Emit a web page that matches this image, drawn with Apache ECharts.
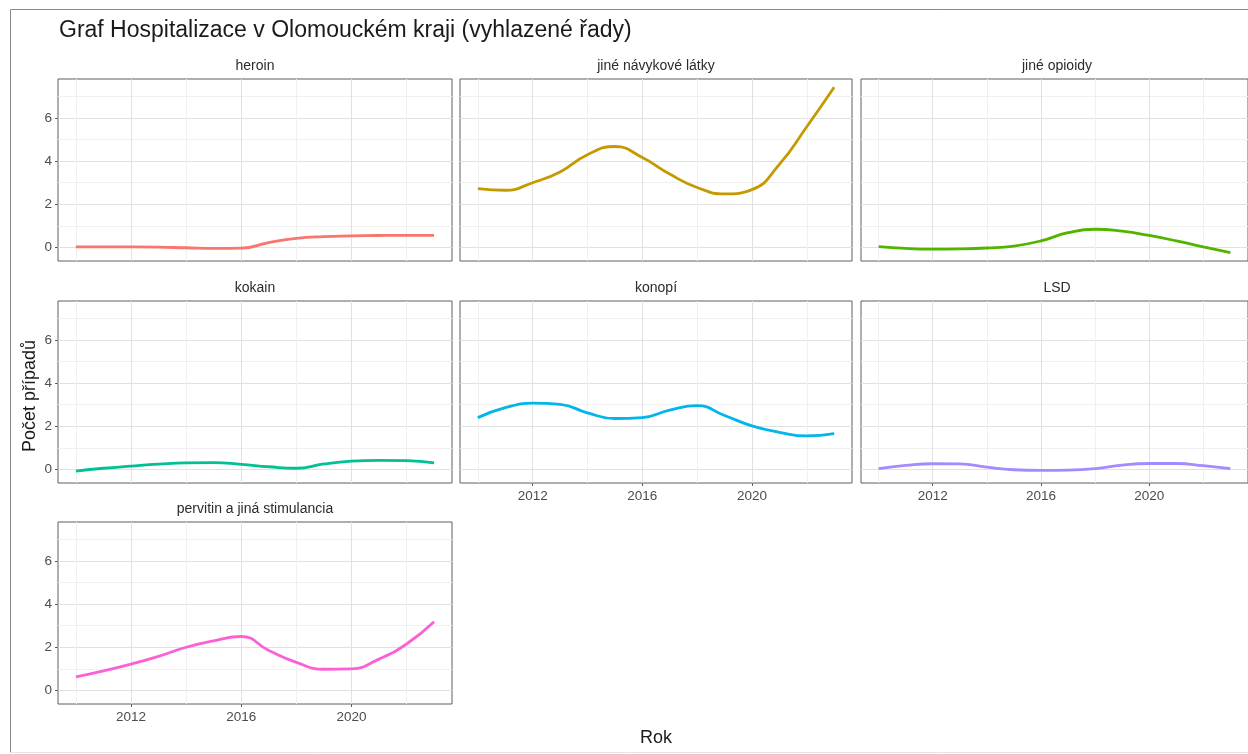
<!DOCTYPE html>
<html>
<head>
<meta charset="utf-8">
<script src="https://cdn.jsdelivr.net/npm/echarts@6/dist/echarts.min.js"></script>
<style>
  html, body { margin: 0; padding: 0; background: #ffffff; }
  #chart { width: 1248px; height: 754px; }
</style>
</head>
<body>
<div id="chart"></div>
<script>
// Smoothed yearly hospitalisation counts per substance, Olomoucký kraj
const years = [2010, 2011, 2012, 2013, 2014, 2015, 2016, 2017, 2018, 2019, 2020, 2021, 2022, 2023];

const panelNames = ['heroin', 'jiné návykové látky', 'jiné opioidy', 'kokain', 'konopí', 'LSD', 'pervitin a jiná stimulancia'];

const heroin      = [0.02, 0.02, 0.02, 0.01, -0.02, -0.05, -0.04, 0.22, 0.42, 0.50, 0.53, 0.55, 0.56, 0.56];
const jineLatky   = [2.73, 2.65, 3.00, 3.50, 4.30, 4.68, 4.17, 3.40, 2.78, 2.48, 2.68, 3.85, 5.60, 7.43];
const jineOpioidy = [0.03, -0.05, -0.08, -0.07, -0.03, 0.06, 0.30, 0.68, 0.84, 0.75, 0.55, 0.30, 0.02, -0.25];
const kokain      = [-0.08, 0.05, 0.15, 0.24, 0.30, 0.31, 0.23, 0.12, 0.05, 0.25, 0.38, 0.42, 0.40, 0.30];
const konopi      = [2.40, 2.86, 3.07, 3.02, 2.62, 2.36, 2.40, 2.75, 2.96, 2.50, 2.02, 1.72, 1.55, 1.66];
const lsd         = [0.03, 0.18, 0.26, 0.25, 0.10, -0.02, -0.05, -0.04, 0.03, 0.20, 0.27, 0.27, 0.17, 0.03];
const pervitin    = [0.62, 0.90, 1.22, 1.58, 2.00, 2.30, 2.50, 1.85, 1.30, 0.98, 1.00, 1.45, 2.15, 3.18];

const seriesValues = [heroin, jineLatky, jineOpioidy, kokain, konopi, lsd, pervitin];

const xMajorTicks = [2012, 2016, 2020];
const xMinorTicks = [2010, 2014, 2018, 2022];
const yMajorTicks = [0, 2, 4, 6];
const yMinorTicks = [1, 3, 5, 7];

const palette = ['#F8766D', '#C49A00', '#53B400', '#00C094', '#00B6EB', '#A58AFF', '#FB61D7'];

// Shared scales with 5 % padding on each side of the data range
const allVals = seriesValues.flat();
const yLo = Math.min(...allVals), yHi = Math.max(...allVals);
const yPad = (yHi - yLo) * 0.05;
const yMin = yLo - yPad, yMax = yHi + yPad;
const xPad = (years[years.length - 1] - years[0]) * 0.05;
const xMin = years[0] - xPad, xMax = years[years.length - 1] + xPad;

// Facet layout: 3 columns, panels filled row by row
const colLeft = [58, 460, 861];
const colWidth = [394, 392, 392];
const rowTop = [79, 301, 522];
const rowHeight = 182;

const FONT = '"Liberation Sans", Arial, sans-serif';
const majorGrid = '#e1e1e1';
const minorGrid = '#f0f0f0';
const tickColor = '#4d4d4d';
const frameColor = '#5e5e5e';

const grids = [], xAxes = [], yAxes = [], series = [];

panelNames.forEach((name, i) => {
  const col = i % 3, row = Math.floor(i / 3);
  const left = colLeft[col], top = rowTop[row], width = colWidth[col];
  grids.push({
    left: left, top: top, width: width, height: rowHeight,
    show: true, borderColor: frameColor, borderWidth: 1, backgroundColor: 'transparent'
  });
  // bottom panel of each column carries x labels, first column carries y labels
  const lastInCol = (i + 3 >= panelNames.length);
  const firstCol = (col === 0);

  xAxes.push({
    type: 'value', gridIndex: i, min: xMin, max: xMax, position: 'bottom',
    axisLine: { show: false, onZero: false },
    axisTick: { show: lastInCol, length: 3, customValues: xMajorTicks, lineStyle: { color: frameColor } },
    axisLabel: {
      show: lastInCol, customValues: xMajorTicks, margin: 6, color: tickColor,
      fontFamily: FONT, fontSize: 13.5, formatter: v => String(v)
    },
    splitLine: { show: true, lineStyle: { color: majorGrid, width: 1 } }
  });
  xAxes.push({
    type: 'value', gridIndex: i, min: xMin, max: xMax, position: 'bottom',
    axisLine: { show: false, onZero: false },
    axisTick: { show: false, customValues: xMinorTicks },
    axisLabel: { show: false, customValues: xMinorTicks },
    splitLine: { show: true, lineStyle: { color: minorGrid, width: 1 } }
  });
  yAxes.push({
    type: 'value', gridIndex: i, min: yMin, max: yMax, position: 'left',
    axisLine: { show: false, onZero: false },
    axisTick: { show: firstCol, length: 3, customValues: yMajorTicks, lineStyle: { color: frameColor } },
    axisLabel: {
      show: firstCol, customValues: yMajorTicks, margin: 6, color: tickColor,
      fontFamily: FONT, fontSize: 13.5, formatter: v => String(v)
    },
    splitLine: { show: true, lineStyle: { color: majorGrid, width: 1 } }
  });
  yAxes.push({
    type: 'value', gridIndex: i, min: yMin, max: yMax, position: 'left',
    axisLine: { show: false, onZero: false },
    axisTick: { show: false, customValues: yMinorTicks },
    axisLabel: { show: false, customValues: yMinorTicks },
    splitLine: { show: true, lineStyle: { color: minorGrid, width: 1 } }
  });

  series.push({
    name: name, type: 'line',
    xAxisIndex: 2 * i, yAxisIndex: 2 * i,
    data: years.map((yr, k) => [yr, seriesValues[i][k]]),
    smooth: 0.5, showSymbol: false, silent: true,
    lineStyle: { color: palette[i], width: 2.8 },
    itemStyle: { color: palette[i] },
    z: 5
  });
});

// facet strip labels above each panel
const stripTexts = panelNames.map((name, i) => {
  const col = i % 3, row = Math.floor(i / 3);
  return {
    type: 'text',
    x: colLeft[col] + colWidth[col] / 2,
    y: rowTop[row] - 13,
    silent: true,
    style: { text: name, fill: '#2b2b2b', font: '14px ' + FONT, align: 'center', verticalAlign: 'middle' }
  };
});

const option = {
  backgroundColor: '#ffffff',
  animation: false,
  title: {
    text: 'Graf Hospitalizace v Olomouckém kraji (vyhlazené řady)',
    left: 54, top: 14,
    textStyle: { fontFamily: FONT, fontSize: 23, fontWeight: 'normal', color: '#1a1a1a' }
  },
  grid: grids,
  xAxis: xAxes,
  yAxis: yAxes,
  series: series,
  graphic: [
    // outer frame
    { type: 'line', silent: true, shape: { x1: 10.5, y1: 9.5, x2: 1248, y2: 9.5 }, style: { stroke: '#8a8a8a', lineWidth: 1 } },
    { type: 'line', silent: true, shape: { x1: 10.5, y1: 9.5, x2: 10.5, y2: 752.5 }, style: { stroke: '#8a8a8a', lineWidth: 1 } },
    { type: 'line', silent: true, shape: { x1: 10.5, y1: 752.5, x2: 1248, y2: 752.5 }, style: { stroke: '#e6e6e6', lineWidth: 1 } },
    ...stripTexts,
    {
      type: 'text', x: 656, y: 738, silent: true,
      style: { text: 'Rok', fill: '#1a1a1a', font: '18px ' + FONT, align: 'center', verticalAlign: 'middle' }
    },
    {
      type: 'text', x: 30, y: 396, rotation: Math.PI / 2, silent: true,
      style: { text: 'Počet případů', fill: '#1a1a1a', font: '18px ' + FONT, align: 'center', verticalAlign: 'middle' }
    }
  ]
};

echarts.init(document.getElementById('chart'), null, { renderer: 'canvas' }).setOption(option);
</script>
</body>
</html>
